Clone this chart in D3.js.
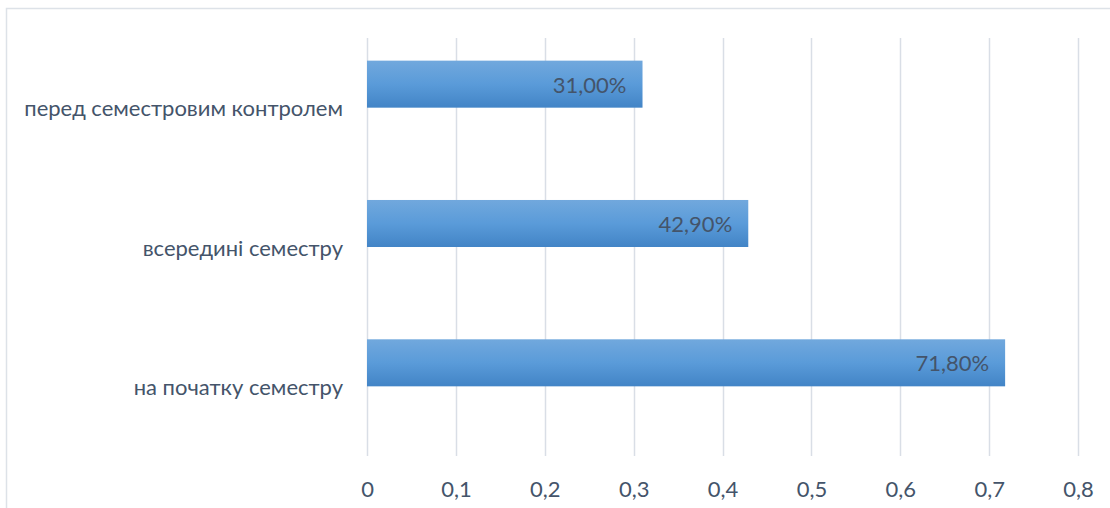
<!DOCTYPE html>
<html>
<head>
<meta charset="utf-8">
<script src="https://cdn.jsdelivr.net/npm/d3@7"></script>
<style>
  html, body { margin: 0; padding: 0; background: #fff; }
  svg { display: block; }
</style>
</head>
<body>
<svg id="chart" width="1110" height="508"></svg>
<script>
const categories = ["перед семестровим контролем", "всередині семестру", "на початку семестру"];
const values = [0.31, 0.429, 0.718];
const valueLabels = ["31,00%", "42,90%", "71,80%"];
const tickValues = [0, 0.1, 0.2, 0.3, 0.4, 0.5, 0.6, 0.7, 0.8];
const tickLabels = ["0", "0,1", "0,2", "0,3", "0,4", "0,5", "0,6", "0,7", "0,8"];
const seriesKeys = ["значення", "порожня"];

const W = 1110, H = 508;
const FONT = "Lato, 'Open Sans', sans-serif";
const TEXT = "#44546a";
const GRID = "#d9dee6";

const svg = d3.select("#chart");

// chart frame
svg.append("rect")
  .attr("x", 6.5).attr("y", 8.5)
  .attr("width", W + 10).attr("height", H + 10)
  .attr("fill", "#fff").attr("stroke", "#dde2e8").attr("stroke-width", 1.5);

const plot = { left: 367, right: 1078, top: 38, bottom: 456 };

const x = d3.scaleLinear().domain([0, 0.8]).range([plot.left, plot.right]);
const y = d3.scaleBand().domain(categories).range([plot.top, plot.bottom])
  .paddingInner(0.325).paddingOuter(0.1625);
const ySub = d3.scaleBand().domain(seriesKeys).range([0, y.bandwidth()]);

// gradient
const defs = svg.append("defs");
const grad = defs.append("linearGradient").attr("id", "barGrad")
  .attr("x1", 0).attr("y1", 0).attr("x2", 0).attr("y2", 1);
grad.append("stop").attr("offset", "0%").attr("stop-color", "#71a8dd");
grad.append("stop").attr("offset", "50%").attr("stop-color", "#5a9bd9");
grad.append("stop").attr("offset", "100%").attr("stop-color", "#4284c6");

// gridlines
svg.append("g").selectAll("line").data(tickValues).join("line")
  .attr("x1", d => Math.round(x(d)) + 0.5).attr("x2", d => Math.round(x(d)) + 0.5)
  .attr("y1", plot.top).attr("y2", plot.bottom)
  .attr("stroke", GRID).attr("stroke-width", 1.5);

// x axis tick labels
const xAxis = d3.axisBottom(x).tickValues(tickValues)
  .tickFormat((d, i) => tickLabels[i]).tickSize(0).tickPadding(0);
const gx = svg.append("g").attr("transform", `translate(0,${plot.bottom})`).call(xAxis);
gx.select(".domain").remove();
gx.selectAll("text")
  .attr("dy", null).attr("y", 32).attr("dominant-baseline", "central")
  .attr("fill", TEXT).style("font-family", FONT).style("font-size", "22px");

// category labels
const yAxis = d3.axisLeft(y).tickSize(0).tickPadding(0);
const gy = svg.append("g").attr("transform", `translate(${plot.left - 24},0)`).call(yAxis);
gy.select(".domain").remove();
gy.selectAll("text")
  .attr("dy", null).attr("x", 0).attr("dominant-baseline", "central")
  .attr("fill", TEXT).style("font-family", FONT).style("font-size", "22px");

// bars
const data = categories.map((c, i) => ({ c, v: values[i], label: valueLabels[i] }));
svg.append("g").selectAll("rect").data(data).join("rect")
  .attr("x", x(0))
  .attr("y", d => y(d.c) + ySub(seriesKeys[0]))
  .attr("width", d => x(d.v) - x(0))
  .attr("height", ySub.bandwidth())
  .attr("fill", "url(#barGrad)");

// data labels
svg.append("g").selectAll("text").data(data).join("text")
  .attr("x", d => x(d.v) - 16)
  .attr("y", d => y(d.c) + ySub(seriesKeys[0]) + ySub.bandwidth() / 2)
  .attr("text-anchor", "end").attr("dominant-baseline", "central")
  .attr("fill", "#44546a").style("font-family", FONT).style("font-size", "22px")
  .text(d => d.label);
</script>
</body>
</html>
